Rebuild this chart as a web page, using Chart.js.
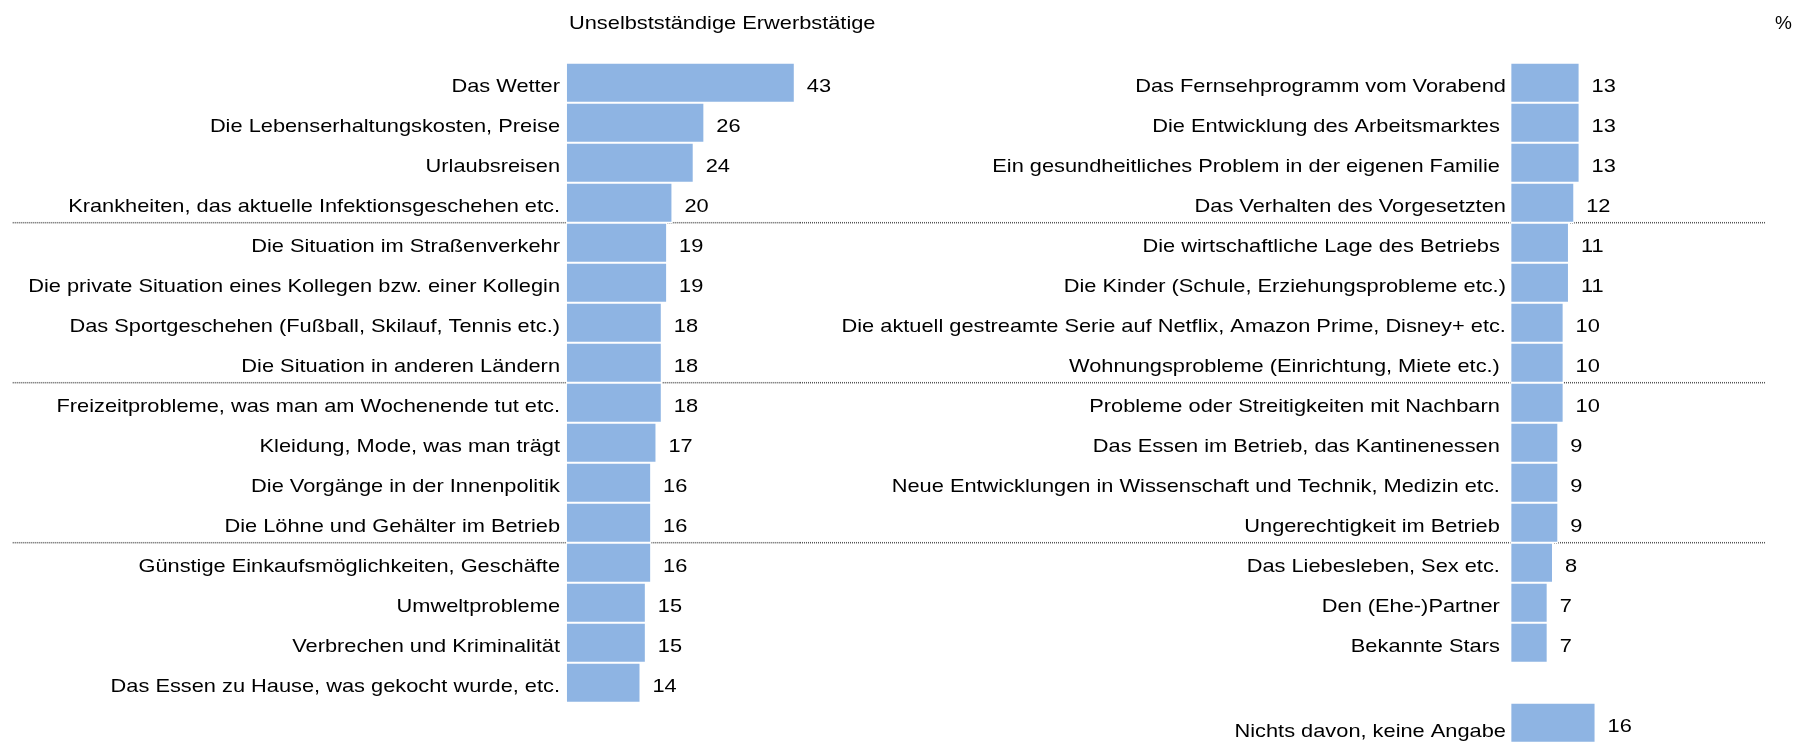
<!DOCTYPE html>
<html>
<head>
<meta charset="utf-8">
<script src="https://cdn.jsdelivr.net/npm/chart.js@4"></script>
<style>
  html, body { margin: 0; padding: 0; background: #fff; overflow: hidden; }
  body { width: 1795px; height: 742px; position: relative; }
  canvas { position: absolute; top: 0; }
</style>
</head>
<body>
<canvas id="leftChart" width="900" height="742" style="left:0"></canvas>
<canvas id="rightChart" width="995" height="750" style="left:800px"></canvas>
<script>
// data
var leftLabels = [
  'Das Wetter',
  'Die Lebenserhaltungskosten, Preise',
  'Urlaubsreisen',
  'Krankheiten, das aktuelle Infektionsgeschehen etc.',
  'Die Situation im Straßenverkehr',
  'Die private Situation eines Kollegen bzw. einer Kollegin',
  'Das Sportgeschehen (Fußball, Skilauf, Tennis etc.)',
  'Die Situation in anderen Ländern',
  'Freizeitprobleme, was man am Wochenende tut etc.',
  'Kleidung, Mode, was man trägt',
  'Die Vorgänge in der Innenpolitik',
  'Die Löhne und Gehälter im Betrieb',
  'Günstige Einkaufsmöglichkeiten, Geschäfte',
  'Umweltprobleme',
  'Verbrechen und Kriminalität',
  'Das Essen zu Hause, was gekocht wurde, etc.'
];
var leftValues = [43, 26, 24, 20, 19, 19, 18, 18, 18, 17, 16, 16, 16, 15, 15, 14];

var rightLabels = [
  'Das Fernsehprogramm vom Vorabend',
  'Die Entwicklung des Arbeitsmarktes ',
  'Ein gesundheitliches Problem in der eigenen Familie ',
  'Das Verhalten des Vorgesetzten',
  'Die wirtschaftliche Lage des Betriebs ',
  'Die Kinder (Schule, Erziehungsprobleme etc.)',
  'Die aktuell gestreamte Serie auf Netflix, Amazon Prime, Disney+ etc.',
  'Wohnungsprobleme (Einrichtung, Miete etc.) ',
  'Probleme oder Streitigkeiten mit Nachbarn ',
  'Das Essen im Betrieb, das Kantinenessen ',
  'Neue Entwicklungen in Wissenschaft und Technik, Medizin etc. ',
  'Ungerechtigkeit im Betrieb ',
  'Das Liebesleben, Sex etc. ',
  'Den (Ehe-)Partner ',
  'Bekannte Stars ',
  '',
  'Nichts davon, keine Angabe'
];
var rightValues = [13, 13, 13, 12, 11, 11, 10, 10, 10, 9, 9, 9, 8, 7, 7, null, 16];

var titleText = 'Unselbstständige Erwerbstätige';
var unitText = '%';

var barColor = '#8EB4E3';
var FONT = '19px "Liberation Sans", Arial, sans-serif';
var SX = 1.147; // the source text is a bit wider than Arial

function drawText(ctx, text, x, y, align, stretch) {
  ctx.save();
  ctx.translate(x, y);
  ctx.scale(stretch === false ? 1 : SX, 1);
  ctx.textAlign = align;
  ctx.textBaseline = 'alphabetic';
  ctx.fillText(text, 0, 0);
  ctx.restore();
}

// separators, row labels and value labels
var rowDecor = {
  id: 'rowDecor',
  beforeDatasetsDraw: function(chart) {
    var o = chart.options.plugins.rowDecor;
    var ctx = chart.ctx;
    var yScale = chart.scales.y;
    ctx.save();
    ctx.strokeStyle = '#555';
    ctx.lineWidth = 1.5;
    ctx.setLineDash([1, 1]);
    [3, 7, 11].forEach(function(i) {
      var y = (yScale.getPixelForValue(i) + yScale.getPixelForValue(i + 1)) / 2;
      ctx.beginPath();
      ctx.moveTo(o.lineFrom, y);
      ctx.lineTo(o.lineTo, y);
      ctx.stroke();
    });
    ctx.restore();
  },
  afterDatasetsDraw: function(chart) {
    var o = chart.options.plugins.rowDecor;
    var ctx = chart.ctx;
    var area = chart.chartArea;
    var meta = chart.getDatasetMeta(0);
    var labels = chart.data.labels;
    var values = chart.data.datasets[0].data;
    ctx.save();
    ctx.fillStyle = '#000';
    ctx.font = FONT;
    meta.data.forEach(function(bar, i) {
      if (values[i] === null) return;
      var shift = (o.lastRowShift && i === labels.length - 1) ? o.lastRowShift : 0;
      drawText(ctx, labels[i], area.left - o.labelGap, bar.y + 9 + shift, 'right');
      drawText(ctx, String(values[i]), bar.x + 12, bar.y + 9, 'left');
    });
    (o.header || []).forEach(function(h) {
      drawText(ctx, h.text, h.x, h.y, h.align, h.stretch);
    });
    ctx.restore();
  }
};

function makeChart(id, labels, values, xMax, padding, decor) {
  return new Chart(document.getElementById(id), {
    type: 'bar',
    data: {
      labels: labels,
      datasets: [{
        data: values,
        backgroundColor: barColor,
        borderColor: '#ffffff',
        borderWidth: 1.3,
        borderSkipped: false,
        barPercentage: 1,
        categoryPercentage: 1
      }]
    },
    options: {
      indexAxis: 'y',
      responsive: false,
      animation: false,
      devicePixelRatio: 1,
      layout: { padding: padding },
      scales: {
        x: { display: false, min: 0, max: xMax },
        y: { display: false }
      },
      plugins: {
        legend: { display: false },
        tooltip: { enabled: false },
        rowDecor: decor
      }
    },
    plugins: [rowDecor]
  });
}

makeChart('leftChart', leftLabels, leftValues, 60,
  { left: 566, right: 14.8, top: 62.7, bottom: 39.3 },
  {
    lineFrom: 12.7, lineTo: 800, labelGap: 6,
    header: [{ text: titleText, x: 569, y: 28.5, align: 'left' }]
  });

makeChart('rightChart', rightLabels, rightValues, 50,
  { left: 710.4, right: 18.6, top: 62.7, bottom: 7.3 },
  {
    lineFrom: 0, lineTo: 966, labelGap: 4.5, lastRowShift: 5,
    header: [{ text: unitText, x: 992, y: 28.5, align: 'right', stretch: false }]
  });
</script>
</body>
</html>
